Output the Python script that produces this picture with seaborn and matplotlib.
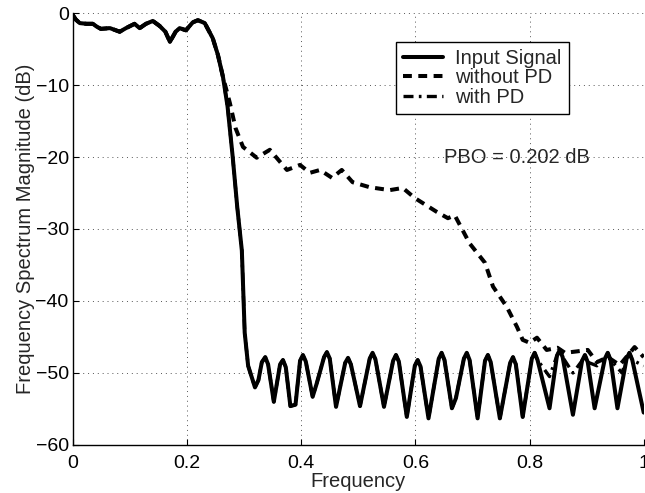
import matplotlib
matplotlib.use("Agg")
import matplotlib.pyplot as plt
import seaborn as sns

# ---- data ----
pass_x = [0.0, 0.005, 0.012, 0.024, 0.035, 0.042, 0.049, 0.065, 0.082, 0.093, 0.108,
          0.117, 0.128, 0.14, 0.152, 0.162, 0.17, 0.18, 0.187, 0.198, 0.21, 0.219,
          0.231, 0.245, 0.254, 0.263]
pass_y = [-0.3, -0.9, -1.4, -1.5, -1.5, -1.9, -2.2, -2.1, -2.6, -2.1, -1.5,
          -2.1, -1.5, -1.1, -1.8, -2.6, -4.0, -2.6, -2.1, -2.4, -1.3, -1.0,
          -1.4, -3.5, -5.8, -8.9]

stop_x = [0.271, 0.28, 0.288, 0.296, 0.301, 0.307, 0.319, 0.325, 0.331, 0.337,
          0.342, 0.352, 0.363, 0.368, 0.373, 0.381, 0.39, 0.398, 0.403, 0.408,
          0.42, 0.427, 0.44, 0.445, 0.45, 0.461, 0.477, 0.482, 0.487, 0.503,
          0.52, 0.525, 0.53, 0.545, 0.561, 0.566, 0.571, 0.585, 0.599, 0.604,
          0.609, 0.623, 0.641, 0.646, 0.651, 0.664, 0.671, 0.685, 0.69, 0.695,
          0.709, 0.722, 0.727, 0.732, 0.748, 0.766, 0.771, 0.776, 0.788, 0.804,
          0.809, 0.814]
stop_y = [-13.0, -20.0, -27.0, -33.0, -44.4, -49.0, -52.0, -51.0, -48.5, -47.8,
          -48.8, -54.0, -48.8, -48.2, -49.2, -54.6, -54.4, -48.3, -47.5, -48.4,
          -53.3, -51.5, -47.8, -47.1, -48.0, -54.7, -48.6, -47.9, -48.8, -54.6,
          -48.0, -47.2, -48.1, -54.7, -48.3, -47.5, -48.4, -56.1, -49.0, -48.2,
          -49.1, -56.3, -48.0, -47.2, -48.2, -54.9, -53.5, -48.0, -47.2, -48.2,
          -56.3, -48.3, -47.5, -48.5, -56.3, -48.6, -47.8, -48.8, -56.1, -48.0,
          -47.2, -48.2]

input_tail_x = [0.835, 0.848, 0.853, 0.858, 0.876, 0.892, 0.897, 0.902, 0.914,
                0.932, 0.937, 0.942, 0.954, 0.97, 0.975, 0.98, 1.0]
input_tail_y = [-54.9, -47.6, -46.8, -47.8, -55.8, -48.3, -47.5, -48.5, -54.9,
                -48.0, -47.2, -48.2, -54.9, -48.0, -47.2, -48.2, -55.5]

pd_tail_x = [0.835, 0.848, 0.853, 0.858, 0.876, 0.892, 0.897, 0.902, 0.918,
             0.932, 0.937, 0.942, 0.962, 0.97, 0.975, 0.98, 1.0]
pd_tail_y = [-50.5, -47.6, -46.8, -47.8, -50.0, -48.3, -47.5, -48.5, -49.0,
             -48.0, -47.2, -48.2, -50.0, -48.0, -47.2, -48.2, -49.0]

nopd_x = [0.275, 0.285, 0.298, 0.322, 0.345, 0.375, 0.398, 0.415,
          0.433, 0.454, 0.471, 0.49, 0.52, 0.555, 0.578, 0.599, 0.637, 0.657,
          0.669, 0.695, 0.722, 0.736, 0.76, 0.778, 0.788, 0.8, 0.813, 0.83,
          0.849, 0.862, 0.883, 0.902, 0.918, 0.937, 0.958, 0.984, 1.0]
nopd_y = [-12.5, -16.0, -18.6, -20.1, -19.0, -21.8, -21.1, -22.2,
          -21.8, -22.9, -21.8, -23.5, -24.2, -24.6, -24.3, -25.7, -27.6, -28.5,
          -28.1, -32.0, -34.7, -38.0, -40.8, -43.6, -45.4, -45.8, -45.1, -46.8,
          -46.5, -47.2, -47.0, -46.8, -48.5, -47.8, -48.9, -46.4, -47.8]

x_ticks = [0, 0.2, 0.4, 0.6, 0.8, 1]
x_tick_labels = ["0", "0.2", "0.4", "0.6", "0.8", "1"]
y_ticks = [-60, -50, -40, -30, -20, -10, 0]
y_tick_labels = ["\u221260", "\u221250", "\u221240", "\u221230", "\u221220", "\u221210", "0"]

# ---- styling ----
sns.set_style("ticks")
plt.rcParams['font.family'] = ['Liberation Sans', 'DejaVu Sans']

fig = plt.figure(figsize=(6.45, 4.93), dpi=100)
ax = fig.add_axes([0.113, 0.0974, 0.885, 0.8762])

sig_x = pass_x + stop_x + input_tail_x
sig_y = pass_y + stop_y + input_tail_y
wo_x = pass_x + nopd_x
wo_y = pass_y + nopd_y
w_x = pass_x + stop_x + pd_tail_x
w_y = pass_y + stop_y + pd_tail_y

sns.lineplot(x=sig_x, y=sig_y, ax=ax, color='black', linewidth=2.9,
             label='Input Signal', solid_joinstyle='round', zorder=3)
sns.lineplot(x=wo_x, y=wo_y, ax=ax, color='black', linewidth=2.9,
             linestyle=(0, (2.2, 1.6)), label='without PD', zorder=4)
sns.lineplot(x=w_x, y=w_y, ax=ax, color='black', linewidth=2.4,
             linestyle=(0, (3.0, 1.6, 0.8, 1.6)), label='with PD', zorder=5)

ax.set_xlim(0, 1)
ax.set_ylim(-60, 0)
ax.set_xticks(x_ticks)
ax.set_xticklabels(x_tick_labels)
ax.set_yticks(y_ticks)
ax.set_yticklabels(y_tick_labels)
ax.tick_params(direction='in', length=4, width=0.8, labelsize=14, pad=3,
               colors='black')
ax.tick_params(axis='x', pad=7)
ax.grid(True, color='#555555', linestyle=(0, (1, 4)), linewidth=0.7)
for s in ['top', 'right']:
    ax.spines[s].set_visible(False)
for s in ['left', 'bottom']:
    ax.spines[s].set_linewidth(1.0)
    ax.spines[s].set_color('black')

ax.set_xlabel('Frequency', fontsize=14.5, labelpad=0)
ax.set_ylabel('Frequency Spectrum Magnitude (dB)', fontsize=14.5, labelpad=0)

ax.text(0.651, -20, 'PBO = 0.202 dB', fontsize=14.5, va='center', ha='left')

leg = ax.legend(loc='upper left', bbox_to_anchor=(0.566, 0.933), fontsize=14.5,
                frameon=True, fancybox=False, edgecolor='black', framealpha=1,
                handlelength=2.0, handletextpad=0.6, borderpad=0.35,
                labelspacing=0.02, borderaxespad=0)
leg.get_frame().set_linewidth(1.0)

fig.savefig('out.png', dpi=100)
